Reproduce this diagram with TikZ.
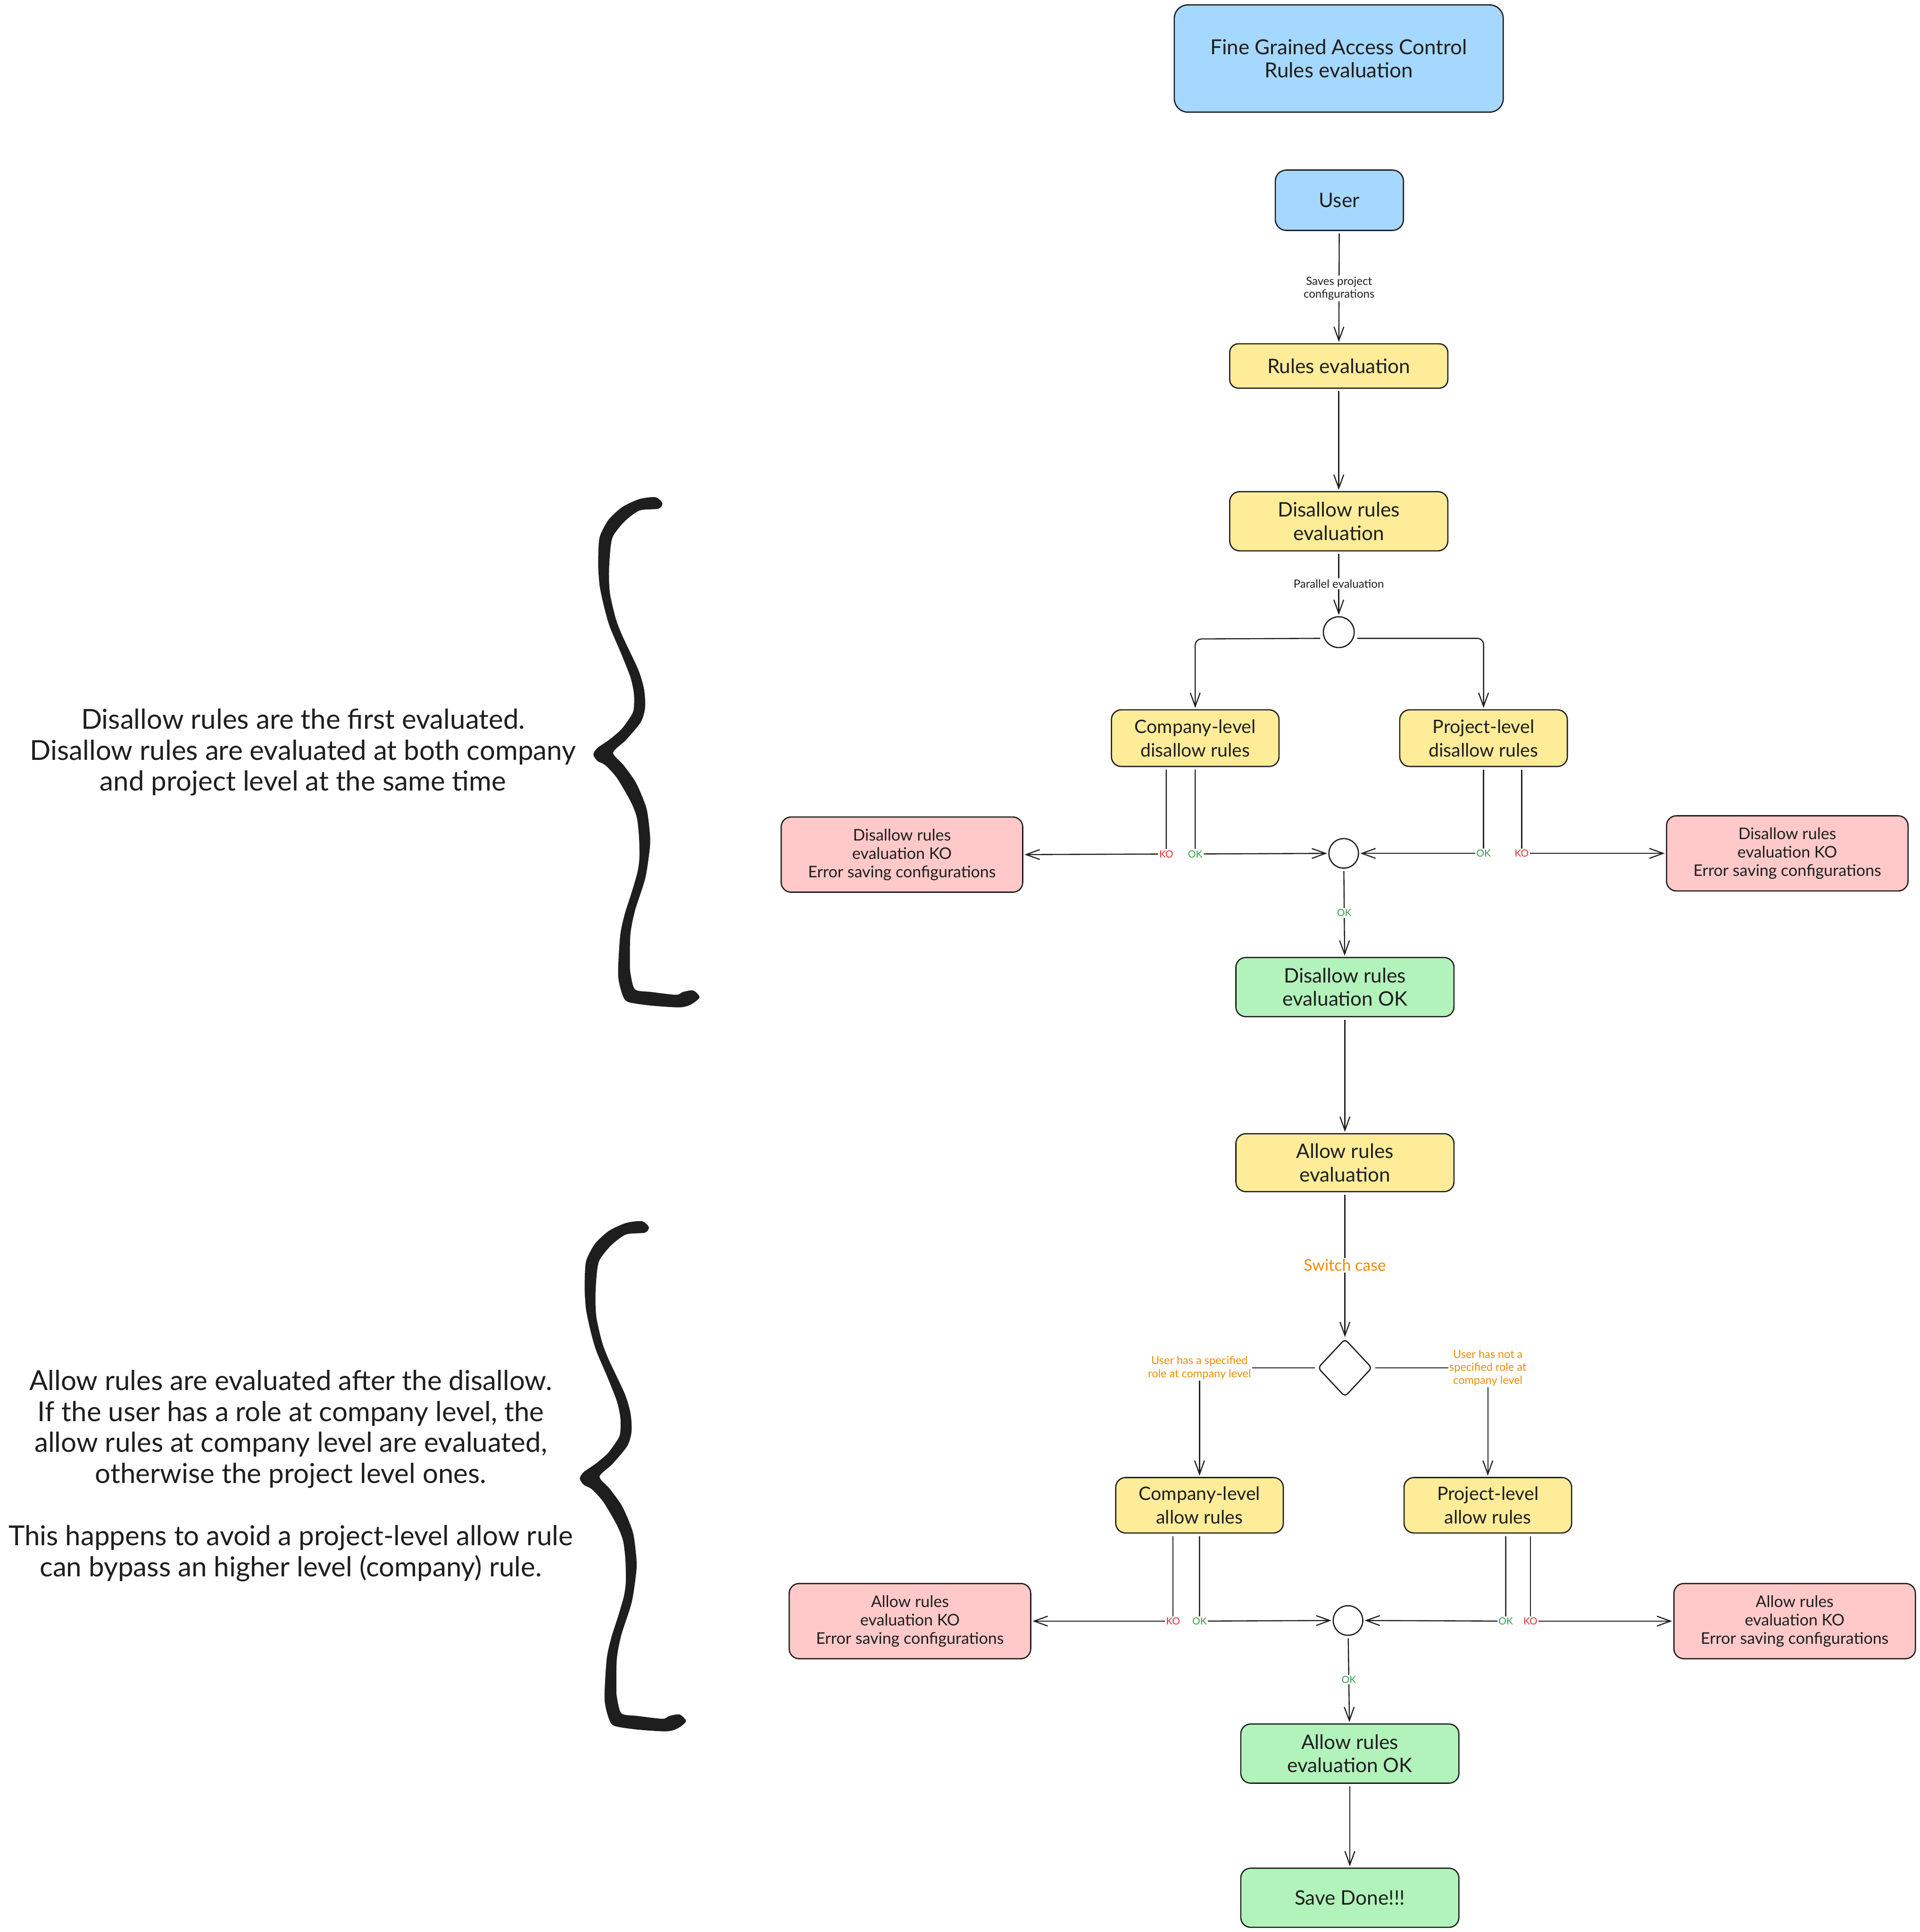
\documentclass[tikz,border=0pt]{standalone}
\usepackage{fontspec}
\setmainfont{Lato}
\usetikzlibrary{arrows.meta,shapes.geometric}
\definecolor{ink}{HTML}{1E1E1E}
\definecolor{cblue}{HTML}{A5D8FF}
\definecolor{cyellow}{HTML}{FFEC99}
\definecolor{cred}{HTML}{FFC9C9}
\definecolor{cgreen}{HTML}{B2F2BB}
\definecolor{tgreen}{HTML}{2F9E44}
\definecolor{tred}{HTML}{E03131}
\definecolor{torange}{HTML}{F08C00}
\newcommand{\fsz}[2]{\fontsize{#1}{#2}\selectfont}
\newcommand{\handbrace}[2]{%
  \begin{scope}[shift={(435.7+#1,373.5+#2)},x=0.09263pt,y=-0.29112pt]
    \fill[ink] plot[smooth cycle,tension=.45] coordinates {
      (1100,120)(1040,103)(900,108)(750,130)(630,165)(560,205)(543,230)(537,290)(550,350)(590,410)(640,465)(740,540)(820,605)(850,650)(850,690)(830,710)(740,750)(630,780)(530,802)(495,820)(530,838)(600,850)(700,885)(820,950)(875,995)(895,1050)(898,1110)(880,1150)(830,1205)(770,1265)(730,1325)(712,1435)(750,1490)(800,1510)(1000,1520)(1250,1525)(1350,1517)(1425,1497)(1370,1478)(1280,1482)(1220,1490)(1000,1482)(860,1475)(820,1430)(815,1400)(820,1320)(860,1255)(950,1165)(990,1080)(990,1040)(960,970)(870,900)(760,850)(668,815)(780,780)(910,730)(948,690)(940,640)(890,585)(750,490)(690,440)(640,370)(632,310)(645,245)(670,210)(770,170)(900,140)(1065,135)};
  \end{scope}}
\tikzset{
  box/.style={draw=ink,line width=1pt,rounded corners=8pt,align=center,text=ink,inner sep=0pt,font=\fsz{16.2}{19}},
  bluebox/.style={box,fill=cblue},
  yellowbox/.style={box,fill=cyellow},
  redbox/.style={box,fill=cred,font=\fsz{13}{15},minimum width=196pt,minimum height=61pt},
  greenbox/.style={box,fill=cgreen,minimum width=177pt,minimum height=48pt},
  levelbox/.style={yellowbox,minimum width=136pt,minimum height=46pt,font=\fsz{15}{19}},
  junction/.style={circle,draw=ink,fill=white,line width=1pt,minimum size=25pt,inner sep=0pt},
  decision/.style={diamond,draw=ink,fill=white,line width=1pt,minimum width=44pt,minimum height=47pt,inner sep=0pt,rounded corners=3pt},
  plainline/.style={draw=ink,line width=.9pt,shorten <=2pt},
  arr/.style={plainline,-{Straight Barb[length=11pt,width=8pt,line width=.9pt]},shorten >=1pt},
  lab/.style={fill=white,inner sep=1pt,align=center},
  blacklab/.style={lab,text=ink,font=\fsz{9.2}{10.5}},
  oklab/.style={lab,text=tgreen,font=\fsz{8}{9}},
  kolab/.style={lab,text=tred,font=\fsz{8}{9}},
  orangelab/.style={lab,text=torange,font=\fsz{9}{10.5}},
  note/.style={align=center,text=ink,inner sep=0pt,font=\fsz{22.3}{25.2}},
}
\begin{document}
\begin{tikzpicture}[x=1pt,y=-1pt]
\useasboundingbox (0,0) rectangle (1558,1567.8);
% boxes
\node[bluebox,font=\fsz{16.8}{19},minimum width=267pt,minimum height=87pt,rounded corners=11pt] (title) at (1086.5,47.5) {Fine Grained Access Control\\Rules evaluation};
\node[bluebox,minimum width=104pt,minimum height=49pt,rounded corners=9pt] (user) at (1087,162.5) {User};
\node[yellowbox,minimum width=177pt,minimum height=36pt,rounded corners=7pt] (rules) at (1086.5,297) {Rules evaluation};
\node[yellowbox,minimum width=177pt,minimum height=48pt] (dis) at (1086.5,423) {Disallow rules\\evaluation};
\node[junction] (j1) at (1086.5,513) {};
\node[levelbox] (cd) at (970,599) {Company-level\\disallow rules};
\node[levelbox] (pd) at (1204,599) {Project-level\\disallow rules};
\node[redbox] (rl1) at (732,693.5) {Disallow rules\\evaluation KO\\Error saving configurations};
\node[redbox] (rr1) at (1450.5,692.5) {Disallow rules\\evaluation KO\\Error saving configurations};
\node[junction,minimum size=24pt] (j2) at (1090.5,692.5) {};
\node[greenbox] (dok) at (1091.5,801) {Disallow rules\\evaluation OK};
\node[yellowbox,minimum width=177pt,minimum height=47pt] (all) at (1091.5,943.5) {Allow rules\\evaluation};
\node[decision] (dec) at (1091.5,1110) {};
\node[levelbox,minimum height=45pt] (ca) at (973.5,1221.5) {Company-level\\allow rules};
\node[levelbox,minimum height=45pt] (pa) at (1207.5,1221.5) {Project-level\\allow rules};
\node[redbox] (rl2) at (738.5,1315.5) {Allow rules\\evaluation KO\\Error saving configurations};
\node[redbox] (rr2) at (1456.5,1315.5) {Allow rules\\evaluation KO\\Error saving configurations};
\node[junction,minimum size=24pt] (j3) at (1094,1315) {};
\node[greenbox] (aok) at (1095.5,1423) {Allow rules\\evaluation OK};
\node[greenbox] (done) at (1095.5,1540) {Save Done!!!};
% bend points where labels sit
\coordinate (kd1) at (946.5,693);
\coordinate (od1) at (970,693);
\coordinate (od2) at (1204,692.5);
\coordinate (kd2) at (1235,692.5);
\coordinate (ka1) at (952,1315.5);
\coordinate (oa1) at (973.5,1315.5);
\coordinate (oa2) at (1222,1315.5);
\coordinate (ka2) at (1242,1315.5);
\coordinate (sc1) at (973.5,1110);
\coordinate (sc2) at (1207.5,1110);
% connectors
\draw[arr] (user) -- node[blacklab,yshift=-1pt] (lsave) {Saves project\\configurations} (rules);
\draw[arr] (rules) -- (dis);
\draw[arr] (dis) -- node[blacklab] (lpar) {Parallel evaluation} (j1);
\draw[arr,rounded corners=5pt] (j1.west) ++(0,5) -- (cd.north |- 0,518.5) -- (cd.north);
\draw[arr,rounded corners=5pt] (j1.east) ++(0,5) -- (pd.north |- 0,518) -- (pd.north);
\draw[arr] (cd.south -| kd1) -- (kd1) -- (rl1.east);
\draw[arr] (cd.south -| od1) -- (od1) -- (j2.west);
\draw[arr] (pd.south -| od2) -- (od2) -- (j2.east);
\draw[arr] (pd.south -| kd2) -- (kd2) -- (rr1.west);
\draw[arr] (j2) -- node[oklab] (lok1) {OK} (dok);
\draw[arr] (dok) -- (all);
\draw[arr] (all) -- node[lab,text=torange,font=\fsz{13}{14}] (lsw) {Switch case} (dec);
\draw[arr] (dec.west) -- (sc1) -- (ca.north);
\draw[arr] (dec.east) -- (sc2) -- (pa.north);
\draw[arr] (ca.south -| ka1) -- (ka1) -- (rl2.east);
\draw[arr] (ca.south -| oa1) -- (oa1) -- (j3.west);
\draw[arr] (pa.south -| oa2) -- (oa2) -- (j3.east);
\draw[arr] (pa.south -| ka2) -- (ka2) -- (rr2.west);
\draw[arr] (j3) -- node[oklab] (lok2) {OK} (aok);
\draw[arr] (aok) -- (done);
% labels on the bends
\node[kolab] (lk1) at (kd1) {KO};
\node[oklab] (lo1) at (od1) {OK};
\node[oklab] (lo2) at (od2) {OK};
\node[kolab] (lk2) at (kd2) {KO};
\node[kolab] (lk3) at (ka1) {KO};
\node[oklab] (lo3) at (oa1) {OK};
\node[oklab] (lo4) at (oa2) {OK};
\node[kolab] (lk4) at (ka2) {KO};
\node[orangelab] (lu1) at (sc1) {User has a specified\\role at company level};
\node[orangelab] (lu2) at (sc2) {User has not a\\specified role at\\company level};
% braces and notes
\handbrace{0}{0}
\handbrace{-11}{587.5}
\node[note] (n1) at (246,610.5) {Disallow rules are the first evaluated.\\Disallow rules are evaluated at both company\\and project level at the same time};
\node[note] (n2) at (236,1197.5) {Allow rules are evaluated after the disallow.\\If the user has a role at company level, the\\allow rules at company level are evaluated,\\otherwise the project level ones.\\[25.2pt]This happens to avoid a project-level allow rule\\can bypass an higher level (company) rule.};
\end{tikzpicture}
\end{document}
